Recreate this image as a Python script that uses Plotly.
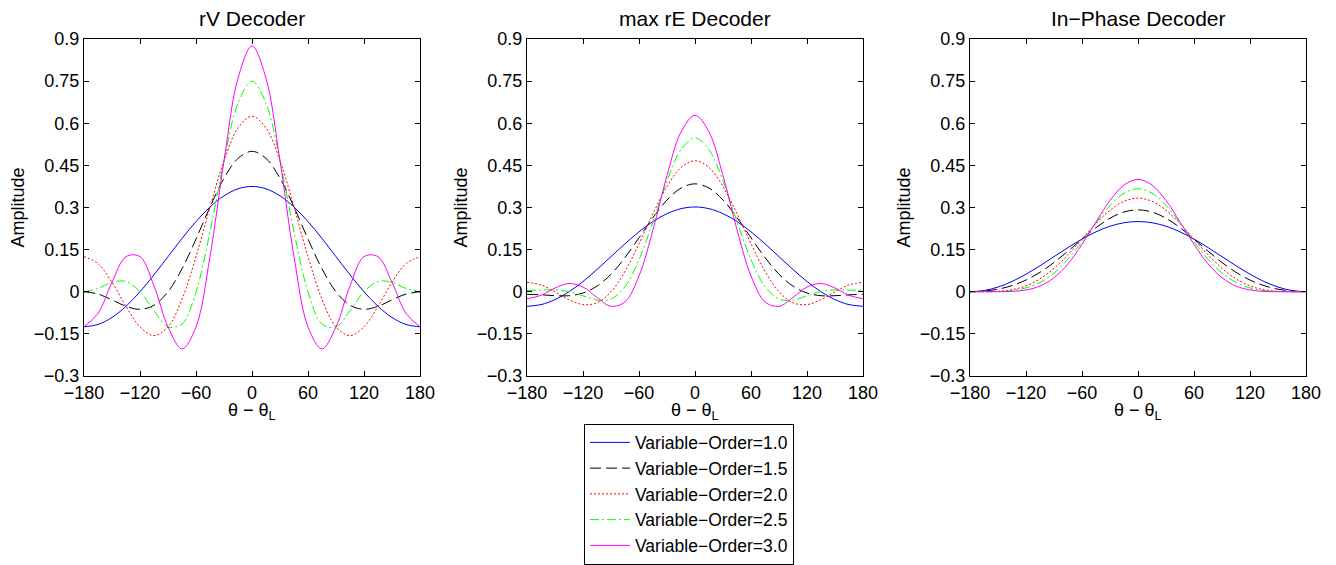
import plotly.graph_objects as go

theta = [-180, -165, -150, -135, -120, -105, -90, -75, -60, -45, -30, -15, 0,
         15, 30, 45, 60, 75, 90, 105, 120, 135, 150, 165, 180]

orders = ["1.0", "1.5", "2.0", "2.5", "3.0"]

rv_10 = [-.125, -.1165, -.0915, -.0518, 0, .0603, .125, .1897, .25, .3018, .3415, .3665, .375,
         .3665, .3415, .3018, .25, .1897, .125, .0603, 0, -.0518, -.0915, -.1165, -.125]
rv_15 = [0, -.0083, -.029, -.0518, -.0625, -.048, 0, .0815, .1875, .3018, .404, .4748, .5,
         .4748, .404, .3018, .1875, .0815, 0, -.048, -.0625, -.0518, -.029, -.0083, 0]
rv_20 = [.125, .1, .0335, -.0518, -.125, -.1562, -.125, -.0268, .125, .3018, .4665, .583, .625,
         .583, .4665, .3018, .125, -.0268, -.125, -.1562, -.125, -.0518, .0335, .1, .125]
rv_25 = [0, .0116, .0335, .0366, 0, -.0678, -.125, -.1152, 0, .2134, .4665, .6714, .75,
         .6714, .4665, .2134, 0, -.1152, -.125, -.0678, 0, .0366, .0335, .0116, 0]
rv_30 = [-.125, -.0768, .0335, .125, .125, .0206, -.125, -.2036, -.125, .125, .4665, .7598, .875,
         .7598, .4665, .125, -.125, -.2036, -.125, .0206, .125, .125, .0335, -.0768, -.125]

re_10 = [-.0518, -.0458, -.0281, 0, .0366, .0793, .125, .1708, .2134, .25, .2781, .2958, .3018,
         .2958, .2781, .25, .2134, .1708, .125, .0793, .0366, 0, -.0281, -.0458, -.0518]
re_15 = [-.0092, -.0109, -.0141, -.0141, -.0046, .02, .0625, .1218, .1921, .2641, .3266, .3691, .3842,
         .3691, .3266, .2641, .1921, .1218, .0625, .02, -.0046, -.0141, -.0141, -.0109, -.0092]
re_20 = [.0335, .0241, 0, -.0281, -.0458, -.0393, 0, .0728, .1708, .2781, .375, .4424, .4665,
         .4424, .375, .2781, .1708, .0728, 0, -.0393, -.0458, -.0281, 0, .0241, .0335]
re_25 = [.0043, .0057, .0067, .0006, -.0145, -.0298, -.0259, .0184, .1136, .2494, .3942, .5057, .5475,
         .5057, .3942, .2494, .1136, .0184, -.0259, -.0298, -.0145, .0006, .0067, .0057, .0043]
re_30 = [-.0249, -.0127, .0134, .0293, .0168, -.0202, -.0518, -.036, .0564, .2207, .4134, .5689, .6284,
         .5689, .4134, .2207, .0564, -.036, -.0518, -.0202, .0168, .0293, .0134, -.0127, -.0249]

ip_10 = [0, .0043, .0167, .0366, .0625, .0927, .125, .1574, .1875, .2134, .2333, .2457, .25,
         .2457, .2333, .2134, .1875, .1574, .125, .0927, .0625, .0366, .0167, .0043, 0]
ip_15 = [0, .0022, .0091, .0219, .0417, .0693, .1042, .1448, .1875, .2282, .2618, .2839, .2917,
         .2839, .2618, .2282, .1875, .1448, .1042, .0693, .0417, .0219, .0091, .0022, 0]
ip_20 = [0, .0001, .0015, .0072, .0208, .0458, .0833, .1321, .1875, .2429, .2902, .3221, .3333,
         .3221, .2902, .2429, .1875, .1321, .0833, .0458, .0208, .0072, .0015, .0001, 0]
ip_25 = [0, 0, .0008, .0043, .0136, .0331, .0667, .1159, .1782, .2458, .3076, .351, .3667,
         .351, .3076, .2458, .1782, .1159, .0667, .0331, .0136, .0043, .0008, 0, 0]
ip_30 = [0, 0, .0001, .0013, .0063, .0204, .05, .0997, .1688, .2487, .3249, .3799, .4,
         .3799, .3249, .2487, .1688, .0997, .05, .0204, .0063, .0013, .0001, 0, 0]

titles = ["rV Decoder", "max rE Decoder", "In\u2212Phase Decoder"]
panels = [[rv_10, rv_15, rv_20, rv_25, rv_30],
          [re_10, re_15, re_20, re_25, re_30],
          [ip_10, ip_15, ip_20, ip_25, ip_30]]

xticks = [-180, -120, -60, 0, 60, 120, 180]
xticktext = ["\u2212180", "\u2212120", "\u221260", "0", "60", "120", "180"]
yticks = [-0.3, -0.15, 0, 0.15, 0.3, 0.45, 0.6, 0.75, 0.9]
yticktext = ["\u22120.3", "\u22120.15", "0", "0.15", "0.3", "0.45", "0.6", "0.75", "0.9"]

colors = ["#0000ff", "#000000", "#ff0000", "#00ff00", "#ff00ff"]
dashes = ["solid", "11px,5px", "2px,2px", "9px,3px,2px,3px", "solid"]

W, H = 1336, 565
FONT = "Liberation Sans, Arial, Helvetica, sans-serif"
FS = 18
FS_LEG = 17.5
FS_TITLE = 21
left_px = [84, 527, 970]
width_px = 336
top_px, bot_px = 39, 376

fig = go.Figure()
layout = dict(
    width=W, height=H,
    margin=dict(l=0, r=0, t=0, b=0, autoexpand=False),
    paper_bgcolor="white", plot_bgcolor="white",
    font=dict(family=FONT, size=FS, color="#000"),
    showlegend=True,
    legend=dict(x=689 / W, y=0.5 / H, xanchor="center", yanchor="bottom",
                bordercolor="#000", borderwidth=1, bgcolor="white",
                font=dict(family=FONT, size=FS_LEG, color="#000"),
                tracegroupgap=0, itemwidth=40),
)
annotations = []
for i in range(3):
    ax = "" if i == 0 else str(i + 1)
    x0 = left_px[i] / W
    x1 = (left_px[i] + width_px) / W
    axis_common = dict(showline=True, linecolor="#000", linewidth=1, mirror="ticks",
                       ticks="inside", ticklen=5, tickcolor="#000", showgrid=False,
                       zeroline=False, tickfont=dict(family=FONT, size=FS, color="#000"))
    layout["xaxis" + ax] = dict(domain=[x0, x1], range=[-180, 180], tickvals=xticks,
                                ticktext=xticktext, anchor="y" + ax, **axis_common)
    layout["yaxis" + ax] = dict(domain=[1 - bot_px / H, 1 - top_px / H], range=[-0.3, 0.9],
                                tickvals=yticks, ticktext=yticktext, anchor="x" + ax,
                                **axis_common)
    for j in range(5):
        fig.add_trace(go.Scatter(
            x=theta, y=panels[i][j], mode="lines",
            line=dict(color=colors[j], dash=dashes[j], width=1, shape="spline", smoothing=1.0),
            name="Variable\u2212Order=" + orders[j],
            showlegend=(i == 0),
            xaxis="x" + ax, yaxis="y" + ax))
    cx = (left_px[i] + width_px / 2) / W
    annotations.append(dict(text=titles[i], x=cx, y=1 - 18 / H, xref="paper", yref="paper",
                            xanchor="center", yanchor="middle", showarrow=False,
                            font=dict(family=FONT, size=FS_TITLE, color="#000")))
    annotations.append(dict(text="\u03b8 \u2212 \u03b8<sub>L</sub>", x=cx, y=1 - 398 / H,
                            xref="paper", yref="paper", xanchor="center", yanchor="top",
                            showarrow=False, font=dict(family=FONT, size=FS, color="#000")))
    annotations.append(dict(text="Amplitude", x=(left_px[i] - 67) / W,
                            y=1 - ((top_px + bot_px) / 2) / H, xref="paper", yref="paper",
                            xanchor="center", yanchor="middle", textangle=-90, showarrow=False,
                            font=dict(family=FONT, size=FS, color="#000")))
layout["annotations"] = annotations
fig.update_layout(**layout)
fig.write_html("out.html", config={"displayModeBar": False},
               post_script="document.body.style.margin='0px';")
